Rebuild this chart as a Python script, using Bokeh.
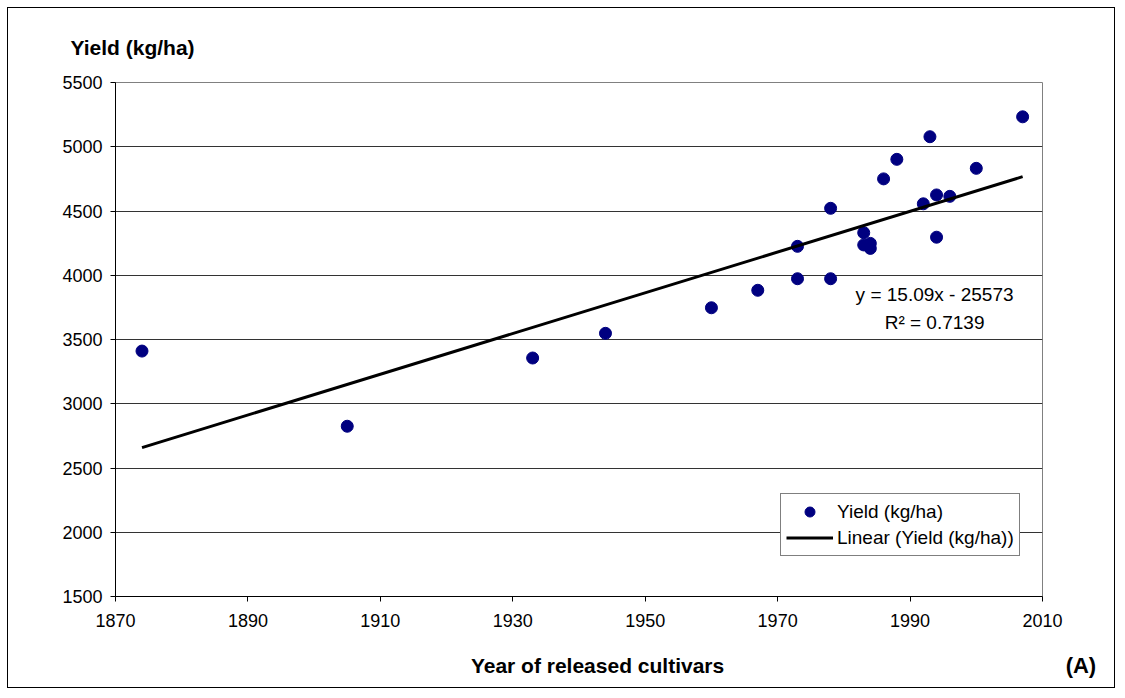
from bokeh.plotting import figure
from bokeh.models import Label, Range1d, FixedTicker, Title
from bokeh.embed import file_html
from bokeh.resources import INLINE

# Data
years = [1874, 1905, 1933, 1944, 1960, 1967, 1973, 1973, 1978, 1978, 1983, 1983,
         1984, 1984, 1986, 1988, 1992, 1993, 1994, 1994, 1996, 2000, 2007]
yields = [3410, 2825, 3356, 3548, 3747, 3883, 3973, 4225, 3973, 4521, 4331, 4236,
          4248, 4209, 4750, 4902, 4556, 5078, 4625, 4296, 4614, 4832, 5233]

# Linear trend line as drawn (end points)
trend_years = [1874, 2007]
trend_yields = [2659, 4767]

x_ticks = [1870, 1890, 1910, 1930, 1950, 1970, 1990, 2010]
y_ticks = [1500, 2000, 2500, 3000, 3500, 4000, 4500, 5000, 5500]

equation_text = "y = 15.09x - 25573"
r2_text = "R\u00b2 = 0.7139"

FONT = "Liberation Sans"

p = figure(width=1108, height=681, output_backend="svg", toolbar_location=None,
           x_range=Range1d(1870, 2010), y_range=Range1d(1500, 5500),
           min_border_left=107, min_border_top=74, min_border_right=74, min_border_bottom=93)
p.styles = {"border": "1px solid black", "margin": "7px 0 0 7px"}

p.background_fill_color = "white"
p.border_fill_color = "white"
p.outline_line_color = "#808080"
p.outline_line_width = 1

# Y title above the plot
p.add_layout(Title(text="Yield (kg/ha)", align="left", offset=-45, standoff=48,
                   text_font=FONT, text_font_size="21px", text_font_style="bold",
                   text_color="black"), "above")

# Axes
p.xaxis.ticker = FixedTicker(ticks=x_ticks)
p.yaxis.ticker = FixedTicker(ticks=y_ticks)
for ax in (p.xaxis, p.yaxis):
    ax.axis_line_color = "black"
    ax.axis_line_width = 1
    ax.major_tick_line_color = "black"
    ax.major_tick_out = 5
    ax.major_tick_in = 0
    ax.minor_tick_line_color = None
    ax.major_label_text_font = FONT
    ax.major_label_text_font_size = "18px"
    ax.major_label_text_color = "black"
p.yaxis.major_label_standoff = 8
p.xaxis.major_label_standoff = 12

p.xgrid.grid_line_color = None
p.ygrid.grid_line_color = "#333333"
p.ygrid.grid_line_width = 1

# Glyphs
p.scatter(years, yields, size=12, marker="circle", fill_color="#000080",
          line_color="#000080", legend_label="Yield (kg/ha)")
p.line(trend_years, trend_yields, line_width=3, line_color="black",
       legend_label="Linear (Yield (kg/ha))")

# Legend
lg = p.legend[0]
lg.location = (665, 40)
lg.margin = 0
lg.padding = 5
lg.spacing = 1
lg.glyph_width = 47
lg.glyph_height = 25
lg.label_height = 25
lg.label_standoff = 4
lg.label_text_font = FONT
lg.label_text_font_size = "19px"
lg.label_text_color = "black"
lg.border_line_color = "black"
lg.border_line_width = 1
lg.background_fill_color = "white"
lg.background_fill_alpha = 1.0

# Equation text
p.add_layout(Label(x=1993.7, y=3854, text=equation_text, text_font=FONT,
                   text_font_size="19px", text_align="center", text_baseline="middle",
                   text_color="black"))
p.add_layout(Label(x=1993.7, y=3629, text=r2_text, text_font=FONT,
                   text_font_size="19px", text_align="center", text_baseline="middle",
                   text_color="black"))

# X title and panel tag, placed in the bottom side panel (not clipped to the frame)
p.add_layout(Label(x=1942.8, y=964, text="Year of released cultivars", text_font=FONT,
                   text_font_size="21px", text_font_style="bold", text_align="center",
                   text_baseline="middle", text_color="black"), "below")
p.add_layout(Label(x=2015.8, y=964, text="(A)", text_font=FONT,
                   text_font_size="22px", text_font_style="bold", text_align="center",
                   text_baseline="middle", text_color="black"), "below")

open("out.html", "w").write(file_html(p, INLINE))
